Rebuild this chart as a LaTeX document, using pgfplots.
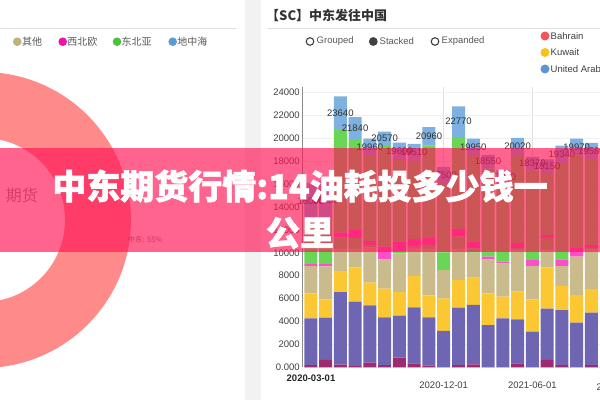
\documentclass[border=0pt]{standalone}
\usepackage{fontspec}
\setmainfont{Liberation Sans}
\newfontfamily\cjk{Noto Sans CJK SC}
\newfontfamily\cjkfat[FakeBold=1.6]{Noto Sans CJK SC}
\usepackage{pgfplots}
\pgfplotsset{compat=1.18}
\usepackage{pgfplotstable}

\definecolor{cA}{HTML}{9E2A6F}
\definecolor{cB}{HTML}{6E66B3}
\definecolor{cC}{HTML}{FBC834}
\definecolor{cD}{HTML}{C9BB8C}
\definecolor{cE}{HTML}{FF4FC8}
\definecolor{cF}{HTML}{6AD655}
\definecolor{cK}{HTML}{7EB0E0}
\definecolor{banner}{RGB}{255,20,85}
\definecolor{donut}{HTML}{FF8A8A}
\definecolor{lgA}{HTML}{BDB27A}
\definecolor{lgB}{HTML}{F012A8}
\definecolor{lgC}{HTML}{4CC23C}
\definecolor{lgD}{HTML}{5B9BD5}
\definecolor{bahrain}{HTML}{F0555A}
\definecolor{kuwait}{HTML}{F7C21A}
\definecolor{uae}{HTML}{5B95D5}

\pgfplotstableread{
x A B C D E F H G K T
1 200 4070 2180 2390 170 1290 0 2600 3190 16090
2 640 3690 1600 2870 200 1300 0 2700 3250 16250
3 230 6340 1830 1900 0 1050 400 8960 2930 23640
4 100 5630 2990 1580 0 990 690 7860 2000 21840
5 400 5000 1990 3060 0 230 340 7440 1500 19960
6 200 4160 2500 2560 1110 0 0 8870 1170 20570
7 840 3670 2060 3380 0 140 870 7140 1500 19600
8 350 4880 2740 2430 0 130 670 6810 1500 19510
9 150 4210 1920 4020 0 380 600 8080 1600 20960
10 0 3170 2850 2470 0 1510 0 6000 1500 17500
11 200 5000 2420 2680 0 1100 670 8030 2670 22770
12 260 5180 2380 2180 0 380 580 7490 1500 19950
13 0 3690 2760 2970 230 0 0 7700 1200 18550
14 0 4270 1890 2910 150 0 0 6800 1200 17220
15 350 3840 2410 3600 0 210 440 7670 1500 20020
16 0 3110 2820 2910 520 0 0 7810 1200 18370
17 640 4480 3600 1480 0 1090 260 5400 1200 18150
18 200 4800 2100 1740 580 0 0 8420 1500 19340
19 0 3900 2410 3350 750 0 0 8060 1500 19970
20 200 4570 2060 3470 0 100 280 7400 1500 19580
}\data

\begin{document}
\begin{tikzpicture}[x=1pt,y=1pt]
\useasboundingbox (0,0) rectangle (600,400);
\clip (0,0) rectangle (600,400);
\fill[white] (0,0) rectangle (600,400);
\fill[black!5] (245,0) rectangle (261,400);

% left panel
\begin{scope}
\clip (0,0) rectangle (245,400);
\fill[donut,even odd rule] (-17,180) circle[radius=148] (-17,180) circle[radius=82];
\end{scope}
\draw[black!13, line width=1.2pt] (0,371.3) -- (236,371.3);
\foreach \c/\xx/\t in {lgA/17.3/其他, lgB/62.7/西北欧, lgC/117/东北亚, lgD/172.7/地中海}{
  \fill[\c] (\xx,358.3) circle[radius=4.3];
  \node[anchor=west, inner sep=0, font=\cjk\fontsize{10}{12}\selectfont, text=black!65] at (\xx+4.5,358.3) {\t};
}
\node[anchor=east, inner sep=0, font=\cjk\fontsize{16}{18}\selectfont, text=black!45] at (38,205) {期货};
\node[inner sep=0, font=\cjk\fontsize{7.5}{9}\selectfont, text=black!55] at (145,160) {中东: 55\%};

% right panel header
\node[anchor=west, inner sep=0, font=\cjk\bfseries\fontsize{13}{15}\selectfont, text=black!80] at (266,385) {【SC】中东发往中国};
\draw[black!13, line width=1.2pt] (268,371.7) -- (600,371.7);
\draw[black!75, line width=1.1pt] (310,358.5) circle[radius=3.8];
\node[anchor=west, inner sep=0, font=\fontsize{9.5}{11}\selectfont, text=black!65] at (316.5,358.5) {Grouped};
\fill[black!75] (373.3,358.5) circle[radius=4.4];
\node[anchor=west, inner sep=0, font=\fontsize{9.5}{11}\selectfont, text=black!65] at (379.5,358.5) {Stacked};
\draw[black!75, line width=1.1pt] (435,358.5) circle[radius=3.8];
\node[anchor=west, inner sep=0, font=\fontsize{9.5}{11}\selectfont, text=black!65] at (441.5,358.5) {Expanded};
\foreach \c/\yy/\t in {bahrain/364/Bahrain, kuwait/347.5/Kuwait, uae/331/United Arab Emirates}{
  \fill[\c] (545,\yy) circle[radius=4.5];
  \node[anchor=west, inner sep=0, font=\fontsize{9.5}{11}\selectfont, text=black!75] at (550.5,\yy) {\t};
}

\begin{axis}[
  at={(302.7pt,32.7pt)}, anchor=south west,
  scale only axis, width=297.3pt, height=280.7pt,
  xmin=0.452, xmax=20.58, ymin=0, ymax=24500,
  ybar stacked, bar width=13pt,
  axis lines=left, axis line style={-},
  x axis line style={draw=none},
  y axis line style={draw=black!45, line width=0.8pt},
  major tick length=0pt,
  scaled y ticks=false,
  ytick={0,2000,...,24000},
  yticklabels={0.000,2000,4000,6000,8000,10000,12000,14000,16000,18000,20000,22000,24000},
  xtick={10,16}, xticklabels={2020-12-01,2021-06-01},
  ymajorgrids, xmajorgrids,
  y grid style={black!6, line width=0.6pt},
  x grid style={black!12, line width=0.6pt},
  tick label style={font=\fontsize{9.5}{11}\selectfont, text=black!75},
  yticklabel style={xshift=0.5pt},
  xticklabel style={yshift=-11pt},
  /pgf/number format/assume math mode=true,
]
\addplot[fill=cA, draw=none] table[x=x,y=A] {\data};
\addplot[fill=cB, draw=none] table[x=x,y=B] {\data};
\addplot[fill=cC, draw=none] table[x=x,y=C] {\data};
\addplot[fill=cD, draw=none] table[x=x,y=D] {\data};
\addplot[fill=cE, draw=none] table[x=x,y=E] {\data};
\addplot[fill=cF, draw=none] table[x=x,y=F] {\data};
\addplot[fill=cE, draw=none] table[x=x,y=H] {\data};
\addplot[fill=cF, draw=none] table[x=x,y=G] {\data};
\addplot[fill=cK, draw=none, point meta=explicit symbolic,
  nodes near coords,
  nodes near coords style={font=\fontsize{9.5}{11}\selectfont, text=black!80, inner sep=1pt}]
  table[x=x,y=K,meta=T] {\data};
\end{axis}

\node[inner sep=0, font=\bfseries\fontsize{9.5}{11}\selectfont, text=black!85] at (311,22) {2020-03-01};
\node[inner sep=0, font=\fontsize{9.5}{11}\selectfont, text=black!75] at (621,13) {2021-12-01};

% banner overlay
\fill[banner, opacity=0.66] (0,148) rectangle (600,252);
\node[inner sep=0, text=white, font=\cjkfat\bfseries\fontsize{34}{40}\selectfont] at (300,214) {中东期货行情:14油耗投多少钱一};
\node[inner sep=0, text=white, font=\cjkfat\bfseries\fontsize{34}{40}\selectfont] at (300,167) {公里};
\end{tikzpicture}
\end{document}
